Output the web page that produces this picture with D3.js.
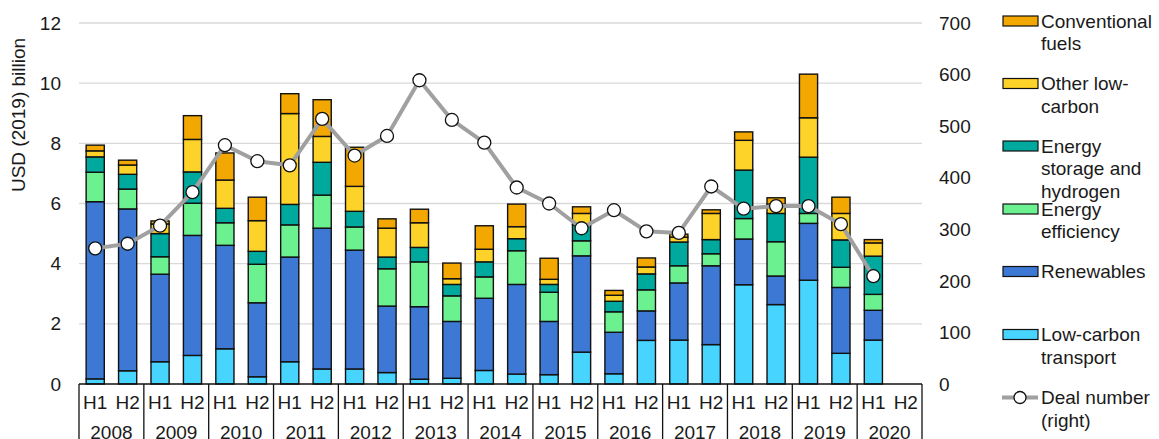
<!DOCTYPE html>
<html><head><meta charset="utf-8">
<script src="https://cdn.jsdelivr.net/npm/d3@7"></script>
<style>
html,body{margin:0;padding:0;background:#fff;}
text{font-family:"Liberation Sans",Arial,sans-serif;fill:#1a1a1a;}
</style></head>
<body><svg id="c" width="1159" height="439"></svg>
<script>
const years = ["2008","2009","2010","2011","2012","2013","2014","2015","2016","2017","2018","2019","2020"];
const halves = ["H1","H2"];
const leftTicks = [0,2,4,6,8,10,12];
const rightTicks = [0,100,200,300,400,500,600,700];

const lowCarbonTransport = [0.17,0.44,0.74,0.95,1.17,0.24,0.74,0.50,0.50,0.38,0.16,0.19,0.45,0.33,0.31,1.06,0.34,1.45,1.46,1.31,3.30,2.64,3.45,1.02,1.46,0];
const renewables        = [5.89,5.38,2.91,3.99,3.44,2.46,3.48,4.68,3.95,2.21,2.41,1.89,2.40,2.98,1.77,3.20,1.38,0.98,1.90,2.62,1.52,0.95,1.89,2.19,0.99,0];
const energyEfficiency  = [0.98,0.66,0.58,1.07,0.75,1.28,1.07,1.10,0.77,1.24,1.49,0.85,0.71,1.12,0.97,0.50,0.68,0.70,0.57,0.40,0.68,1.14,0.33,0.67,0.53,0];
const storageHydrogen   = [0.51,0.49,0.77,1.04,0.48,0.43,0.68,1.09,0.52,0.39,0.48,0.38,0.50,0.40,0.26,0.53,0.35,0.53,0.79,0.47,1.61,0.94,1.87,0.91,1.27,0];
const otherLowCarbon    = [0.20,0.31,0.32,1.08,0.94,1.02,3.02,0.86,0.83,0.96,0.82,0.19,0.42,0.40,0.17,0.38,0.20,0.23,0.16,0.87,0.99,0.31,1.31,0.88,0.44,0];
const conventionalFuels = [0.19,0.16,0.10,0.79,0.90,0.78,0.66,1.22,1.30,0.31,0.45,0.52,0.78,0.75,0.70,0.22,0.16,0.30,0.10,0.12,0.28,0.21,1.45,0.54,0.11,0];
const dealNumber        = [263,272,307,372,463,432,424,514,443,481,589,512,468,381,350,302,337,296,293,383,340,345,345,310,209,null];

const seriesKeys = ["lct","ren","ee","es","other","conv"];
const seriesData = {lct:lowCarbonTransport, ren:renewables, ee:energyEfficiency, es:storageHydrogen, other:otherLowCarbon, conv:conventionalFuels};
const colors = {lct:"#47D4FF", ren:"#3D78D4", ee:"#6CF191", es:"#00A99D", other:"#FDD229", conv:"#F2A800"};

const periods = [];
years.forEach(y => halves.forEach(h => periods.push(y + " " + h)));
const rows = periods.map((p,i) => {
  const r = {period:p};
  seriesKeys.forEach(k => r[k] = seriesData[k][i]);
  return r;
});

const svg = d3.select("#c");
const L = 79, R = 922, T = 23, B = 384;
const x = d3.scaleBand().domain(periods).range([L,R]).paddingInner(0.44).paddingOuter(0.22);
const y = d3.scaleLinear().domain([0,12]).range([B,T]);
const y2 = d3.scaleLinear().domain([0,700]).range([B,T]);
const FS = "19px";

// gridlines
svg.append("g").selectAll("line").data(leftTicks.filter(d=>d>0)).join("line")
  .attr("x1",L).attr("x2",R).attr("y1",d=>y(d)).attr("y2",d=>y(d))
  .attr("stroke","#d9d9d9").attr("stroke-width",1.3);

// left axis labels
svg.append("g").selectAll("text").data(leftTicks).join("text")
  .attr("x",61).attr("y",d=>y(d)).attr("dy","0.35em").attr("text-anchor","end")
  .style("font-size",FS).text(d=>d);
// right axis labels
svg.append("g").selectAll("text").data(rightTicks).join("text")
  .attr("x",939).attr("y",d=>y2(d)).attr("dy","0.35em").attr("text-anchor","start")
  .style("font-size",FS).text(d=>d);
// y title
svg.append("text").attr("transform","translate(25,115) rotate(-90)")
  .attr("text-anchor","middle").style("font-size",FS).text("USD (2019) billion");

// bars
const stack = d3.stack().keys(seriesKeys)(rows);
const gb = svg.append("g");
stack.forEach(layer => {
  gb.append("g").selectAll("rect").data(layer.filter(d => d[1]-d[0] > 0)).join("rect")
    .attr("x", d => x(d.data.period)).attr("width", x.bandwidth())
    .attr("y", d => y(d[1])).attr("height", d => y(d[0]) - y(d[1]))
    .attr("fill", colors[layer.key]).attr("stroke","#111").attr("stroke-width",1.4);
});

// category axis
const step = x.step();
const ga = svg.append("g").attr("stroke","#111").attr("stroke-width",1.3);
ga.append("line").attr("x1",L).attr("x2",R).attr("y1",B).attr("y2",B);
const bounds = years.map(yr => x(yr+" H1") - step*x.paddingInner()/2);
bounds.push(R);
bounds.forEach((bx,i) => {
  ga.append("line").attr("x1",bx).attr("x2",bx).attr("y1",B).attr("y2",439);
});
svg.append("g").selectAll("text").data(periods).join("text")
  .attr("x", d => x(d) + x.bandwidth()/2).attr("y",402).attr("dy","0.35em")
  .attr("text-anchor","middle").style("font-size",FS).text(d => d.split(" ")[1]);
svg.append("g").selectAll("text").data(years).join("text")
  .attr("x", d => x(d+" H1") - step*x.paddingInner()/2 + step).attr("y",432).attr("dy","0.35em")
  .attr("text-anchor","middle").style("font-size",FS).text(d => d);

// deal line
const pts = periods.map((p,i) => ({p, v:dealNumber[i]})).filter(d => d.v != null);
const line = d3.line().x(d => x(d.p)+x.bandwidth()/2).y(d => y2(d.v));
svg.append("path").datum(pts).attr("d",line).attr("fill","none")
  .attr("stroke","#a0a0a0").attr("stroke-width",4).attr("stroke-linejoin","round");
svg.append("g").selectAll("circle").data(pts).join("circle")
  .attr("cx", d => x(d.p)+x.bandwidth()/2).attr("cy", d => y2(d.v)).attr("r",6.5)
  .attr("fill","#fff").attr("stroke","#111").attr("stroke-width",1.3);

// legend
const legendItems = [
  {key:"conv", lines:["Conventional","fuels"], cy:21},
  {key:"other", lines:["Other low-","carbon"], cy:83.5},
  {key:"es", lines:["Energy","storage and","hydrogen"], cy:146},
  {key:"ee", lines:["Energy","efficiency"], cy:209},
  {key:"ren", lines:["Renewables"], cy:271.5},
  {key:"lct", lines:["Low-carbon","transport"], cy:334.5},
  {key:"deal", lines:["Deal number","(right)"], cy:397.5}
];
const gl = svg.append("g");
legendItems.forEach(it => {
  if (it.key === "deal") {
    gl.append("line").attr("x1",1002).attr("x2",1038).attr("y1",it.cy).attr("y2",it.cy)
      .attr("stroke","#a0a0a0").attr("stroke-width",4);
    gl.append("circle").attr("cx",1020).attr("cy",it.cy).attr("r",6)
      .attr("fill","#fff").attr("stroke","#111").attr("stroke-width",1.3);
  } else {
    gl.append("rect").attr("x",1003).attr("y",it.cy-5).attr("width",35).attr("height",10)
      .attr("fill",colors[it.key]).attr("stroke","#111").attr("stroke-width",1.2);
  }
  it.lines.forEach((ln,j) => {
    gl.append("text").attr("x",1041).attr("y",it.cy + j*22.5).attr("dy","0.35em")
      .style("font-size",FS).text(ln);
  });
});
</script></body></html>
